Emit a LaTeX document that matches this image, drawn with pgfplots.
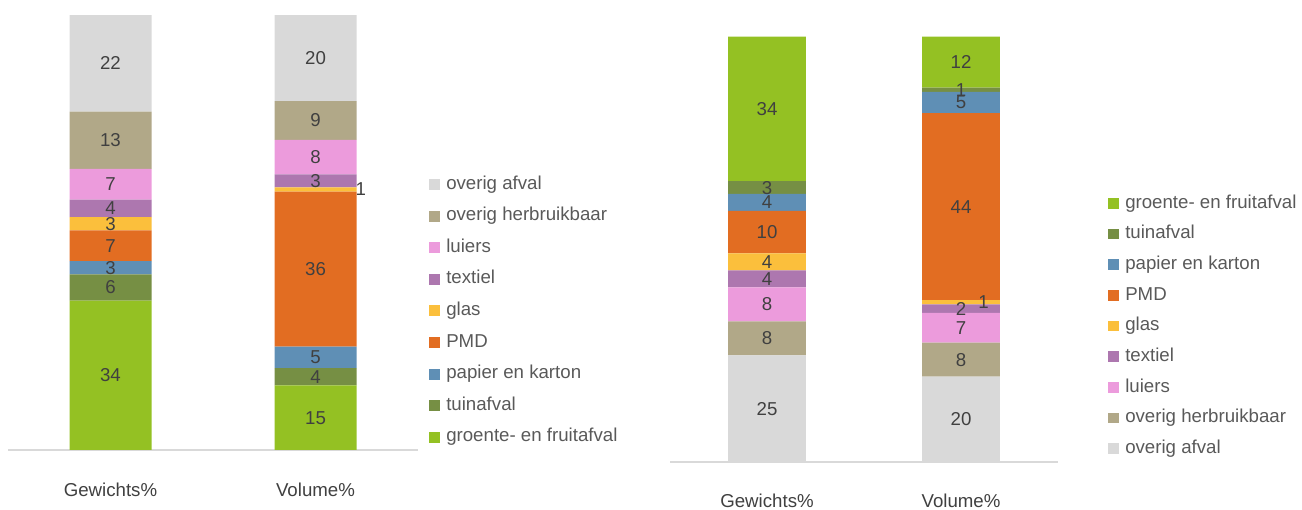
\documentclass[border=0pt]{standalone}
\usepackage{fontspec}
\setmainfont{Liberation Sans}
\usepackage{pgfplots}
\usepackage{pgfplotstable}
\pgfplotsset{compat=1.18}
\definecolor{cov}{HTML}{D9D9D9}
\definecolor{cherb}{HTML}{B1A888}
\definecolor{clui}{HTML}{EC9BDC}
\definecolor{ctex}{HTML}{AD77AF}
\definecolor{cglas}{HTML}{FBBF3C}
\definecolor{cpmd}{HTML}{E26D22}
\definecolor{cpap}{HTML}{5F8FB5}
\definecolor{ctuin}{HTML}{768F44}
\definecolor{cgft}{HTML}{94C123}
\definecolor{ctxt}{HTML}{404040}
\definecolor{cleg}{HTML}{595959}
\newcommand\lfont{\fontsize{14}{16}\selectfont}

% left panel: shares normalised to 100 (labels rounded)
\pgfplotstableread{
x gft tuin pap pmd glas tex lui herb ov gdx
0 34.34 6.06 3.03 7.07 3.03 4.04 7.07 13.13 22.22 0
1 14.85 3.96 4.95 35.64 0.99 2.97 7.92 8.91 19.80 34
}\tabL
% right panel
\pgfplotstableread{
x ov herb lui tex glas pmd pap tuin gft gdx
0 25 8 8 4 4 10 4 3 34 0
1 20 8 7 2 1 44 5 1 12 17
}\tabR

\newcommand\seg[3]{\addplot[fill=#1, draw=none,
  visualization depends on={\thisrow{#3}\as\segh}] table[x=x,y=#3]{#2};}
\newcommand\segg[3]{\addplot[fill=#1, draw=none,
  visualization depends on={\thisrow{#3}\as\segh},
  visualization depends on={\thisrow{gdx}\as\gdx},
  every node near coord/.append style={xshift=\gdx pt}] table[x=x,y=#3]{#2};}

\pgfplotsset{
  panel/.style={
    scale only axis,
    anchor=south west,
    ybar stacked,
    bar width=0.4,
    ymin=0, ymax=100,
    xmin=-0.5, xmax=1.5,
    xtick={0,1},
    xticklabels={Gewichts\%, Volume\%},
    axis x line*=bottom,
    axis y line=none,
    ytick=\empty,
    x axis line style={-, draw=cov, line width=1.2pt},
    xtick style={draw=none},
    xticklabel style={font=\lfont, text=ctxt, yshift=-21pt},
    clip=false,
    nodes near coords={\pgfmathprintnumber[fixed,precision=0,assume math mode=true]{\segh}},
    every node near coord/.append style={anchor=center, font=\lfont, text=ctxt,
      inner sep=0pt},
    legend image code/.code={\fill[##1] (0pt,-4.1pt) rectangle (8.2pt,4.1pt);},
    reverse legend,
    legend cell align=left,
    legend style={draw=none, fill=none, inner sep=0pt, font=\lfont, text=cleg,
      column sep=4.5pt, row sep=10.5pt,
      nodes={inner sep=0pt, text height=10pt, text depth=3pt}},
  }
}

\begin{document}
\begin{tikzpicture}
\useasboundingbox (0,0) rectangle (976.5pt,382.5pt);
\clip (0,0) rectangle (976.5pt,382.5pt);

\begin{axis}[panel, at={(6pt,45pt)}, width=307.5pt, height=326.25pt,
  legend style={at={(axis description cs:1.027,0.631)}, anchor=north west, row sep=10.7pt}]
\seg{cgft}{\tabL}{gft}
\seg{ctuin}{\tabL}{tuin}
\seg{cpap}{\tabL}{pap}
\seg{cpmd}{\tabL}{pmd}
\segg{cglas}{\tabL}{glas}
\seg{ctex}{\tabL}{tex}
\seg{clui}{\tabL}{lui}
\seg{cherb}{\tabL}{herb}
\seg{cov}{\tabL}{ov}
\legend{groente- en fruitafval, tuinafval, papier en karton, PMD, glas, textiel, luiers, overig herbruikbaar, overig afval}
\end{axis}

\begin{axis}[panel, at={(502.5pt,36.2pt)}, width=291pt, height=318.75pt,
  legend style={at={(axis description cs:1.129,0.629)}, anchor=north west, row sep=10pt}]
\seg{cov}{\tabR}{ov}
\seg{cherb}{\tabR}{herb}
\seg{clui}{\tabR}{lui}
\seg{ctex}{\tabR}{tex}
\segg{cglas}{\tabR}{glas}
\seg{cpmd}{\tabR}{pmd}
\seg{cpap}{\tabR}{pap}
\seg{ctuin}{\tabR}{tuin}
\seg{cgft}{\tabR}{gft}
\legend{overig afval, overig herbruikbaar, luiers, textiel, glas, PMD, papier en karton, tuinafval, groente- en fruitafval}
\end{axis}
\end{tikzpicture}
\end{document}
